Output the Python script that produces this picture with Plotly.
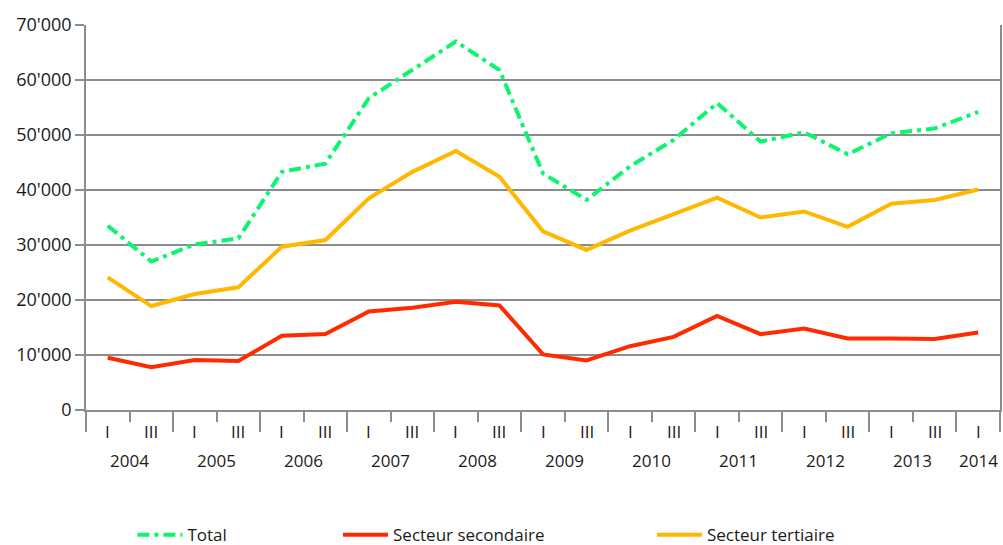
import plotly.graph_objects as go

years = ["2004", "2005", "2006", "2007", "2008", "2009", "2010", "2011", "2012", "2013", "2014"]
halves = ["I", "III"] * 10 + ["I"]

total = [33500, 27000, 30100, 31200, 43300, 44800, 56700, 61800, 67000, 61800,
         43000, 38200, 44300, 49100, 55800, 48800, 50500, 46500, 50300, 51200, 54200]
secondaire = [9500, 7800, 9100, 8900, 13500, 13800, 17900, 18600, 19700, 19000,
              10100, 9000, 11600, 13300, 17100, 13800, 14800, 13000, 13000, 12900, 14100]
tertiaire = [24100, 18900, 21100, 22300, 29700, 30900, 38500, 43300, 47100, 42400,
             32500, 29100, 32600, 35600, 38600, 35000, 36100, 33300, 37500, 38200, 40100]

series_names = ["Total", "Secteur secondaire", "Secteur tertiaire"]
colors = ["#0CF56E", "#FF2B00", "#FFB700"]

x = list(range(len(halves)))
FONT = "Open Sans"
TXT = "#1a1a1a"
GRID = "#8c8c8c"

fig = go.Figure()
fig.add_trace(go.Scatter(x=x, y=total, mode="lines", name=series_names[0],
                         line=dict(color=colors[0], width=4, dash="12px,5px,4px,5px"),
                         legend="legend"))
fig.add_trace(go.Scatter(x=x, y=secondaire, mode="lines", name=series_names[1],
                         line=dict(color=colors[1], width=4), legend="legend2"))
fig.add_trace(go.Scatter(x=x, y=tertiaire, mode="lines", name=series_names[2],
                         line=dict(color=colors[2], width=4), legend="legend3"))

n = len(halves)
major = [-0.5 + 2 * k for k in range(len(years))] + [n - 0.5]
major = sorted(set(v for v in major if v <= n - 0.5))

annotations = []
for i, h in enumerate(halves):
    annotations.append(dict(x=i, y=-0.057, xref="x", yref="paper", text=h, showarrow=False,
                            yanchor="middle", xanchor="center",
                            font=dict(family=FONT, size=17, color=TXT)))
for k, yr in enumerate(years):
    idx = [j for j in (2 * k, 2 * k + 1) if j < n]
    cx = sum(idx) / len(idx)
    annotations.append(dict(x=cx, y=-0.13, xref="x", yref="paper", text=yr, showarrow=False,
                            yanchor="middle", xanchor="center",
                            font=dict(family=FONT, size=17, color=TXT)))

leg_common = dict(orientation="h", yanchor="middle", xanchor="left", y=0.018,
                  xref="container", yref="container", itemwidth=45,
                  font=dict(family=FONT, size=17, color=TXT), bgcolor="rgba(0,0,0,0)")

fig.update_layout(
    width=1003, height=545,
    margin=dict(l=86, r=3, t=25, b=135, autoexpand=False),
    paper_bgcolor="white", plot_bgcolor="white",
    separators=".'",
    font=dict(family=FONT, size=17, color=TXT),
    showlegend=True,
    legend=dict(x=0.132, **leg_common),
    legend2=dict(x=0.337, **leg_common),
    legend3=dict(x=0.650, **leg_common),
    annotations=annotations,
    xaxis=dict(range=[-0.5, n - 0.5], showgrid=False, zeroline=False, automargin=False,
               showline=True, linecolor=GRID, linewidth=1.5, mirror=False,
               tickmode="array", tickvals=major, ticks="outside", ticklen=20,
               tickcolor=GRID, tickwidth=1.5, showticklabels=False,
               minor=dict(tick0=-0.5, dtick=1, ticks="outside", ticklen=10,
                          tickcolor=GRID, tickwidth=1.5, showgrid=False)),
    yaxis=dict(range=[0, 70000], tickmode="linear", tick0=0, dtick=10000, automargin=False,
               tickformat=",d", showgrid=True, gridcolor=GRID, gridwidth=1.5,
               zeroline=False, showline=True, linecolor=GRID, linewidth=1.5,
               mirror=True, ticks="outside", ticklen=9, tickcolor=GRID, tickwidth=1.5,
               tickfont=dict(family=FONT, size=18, color=TXT)),
)

fig.write_html("out.html", config={"displayModeBar": False},
               post_script="document.body.style.margin='0';document.body.style.padding='0';")
